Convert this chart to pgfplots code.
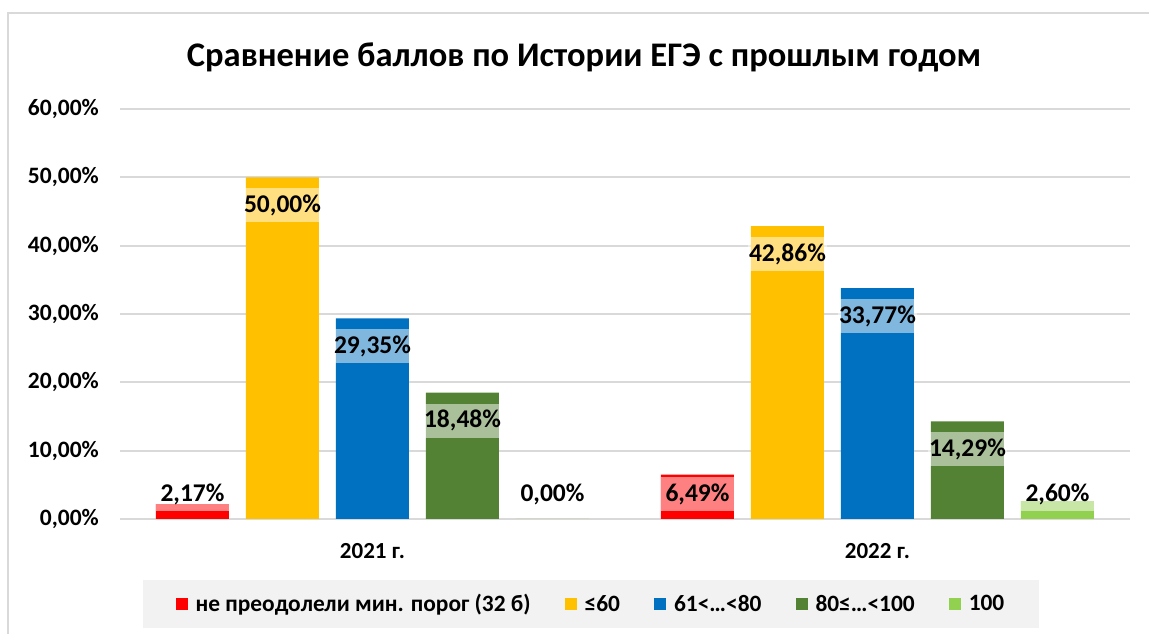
\documentclass[border=0pt]{standalone}
\usepackage{fontspec}
\setmainfont{Carlito}
\usepackage{pgfplots}
\pgfplotsset{compat=1.18}
\definecolor{cRed}{HTML}{FF0000}
\definecolor{cYel}{HTML}{FFC000}
\definecolor{cBlue}{HTML}{0070C0}
\definecolor{cDGreen}{HTML}{548235}
\definecolor{cLGreen}{HTML}{92D050}
\definecolor{cGrid}{HTML}{D9D9D9}
\definecolor{cLeg}{HTML}{F2F2F2}
\begin{document}
\begin{tikzpicture}[x=1pt,y=1pt]
\useasboundingbox (0,0) rectangle (1149,634);
\draw[cGrid, line width=2pt] (8,0) -- (8,621) -- (1149,621);
\node[font=\fontsize{34.5}{40}\selectfont\bfseries] at (584,577) {Сравнение баллов по Истории ЕГЭ с прошлым годом};
\begin{axis}[
  at={(120pt,115pt)}, anchor=south west,
  scale only axis, width=1010pt, height=410pt,
  ybar, bar width=73pt,
  xmin=-0.5, xmax=1.5, ymin=0, ymax=60,
  xtick={0,1}, xticklabels={2021 г., 2022 г.},
  ytick={0,10,...,60},
  axis line style={draw=none},
  major tick length=0pt,
  ymajorgrids, major grid style={cGrid, line width=2pt},
  /pgf/number format/assume math mode=true,
  yticklabel={\pgfmathprintnumber[fixed,fixed zerofill,precision=2,use comma]{\tick}\%},
  yticklabel style={font=\fontsize{23.5}{27}\selectfont\bfseries, anchor=east, inner sep=0pt, xshift=-21pt},
  xticklabel style={font=\fontsize{23}{27}\selectfont\bfseries, anchor=north, inner sep=0pt, yshift=-24pt},
  visualization depends on={y \as \rawy},
  nodes near coords={\pgfmathprintnumber[fixed,fixed zerofill,precision=2,use comma,assume math mode=true]{\rawy}\%},
  nodes near coords align={center},
  every node near coord/.append style={anchor=center, yshift={max(-28,25-\rawy*6.8333)}, fill=white, fill opacity=0.5, text opacity=1, minimum width=73pt, minimum height=34pt, inner sep=1pt, font=\fontsize{25.5}{30}\selectfont\bfseries, text=black},
  legend columns=5,
  legend image code/.code={\fill[#1] (0pt,-6pt) rectangle (12pt,6pt);},
  legend style={at={(0.4663,-0.2073)}, anchor=center, fill=cLeg, draw=none,
    inner xsep=33pt, inner ysep=13pt,
    font=\fontsize{23.4}{27}\selectfont\bfseries,
    nodes={inner sep=2pt},
    /tikz/every odd column/.append style={column sep=6pt},
    /tikz/every even column/.append style={column sep=32pt}},
]
\addplot[fill=cRed, draw=none, bar shift=-180pt] coordinates {(0,2.17) (1,6.49)};
\addplot[fill=cYel, draw=none, bar shift=-90pt] coordinates {(0,50.00) (1,42.86)};
\addplot[fill=cBlue, draw=none, bar shift=0pt] coordinates {(0,29.35) (1,33.77)};
\addplot[fill=cDGreen, draw=none, bar shift=90pt] coordinates {(0,18.48) (1,14.29)};
\addplot[fill=cLGreen, draw=none, bar shift=180pt] coordinates {(0,0.00) (1,2.60)};
\legend{не преодолели мин. порог (32 б), ≤60, 61<…<80, 80≤…<100, 100}
\end{axis}
\end{tikzpicture}
\end{document}
